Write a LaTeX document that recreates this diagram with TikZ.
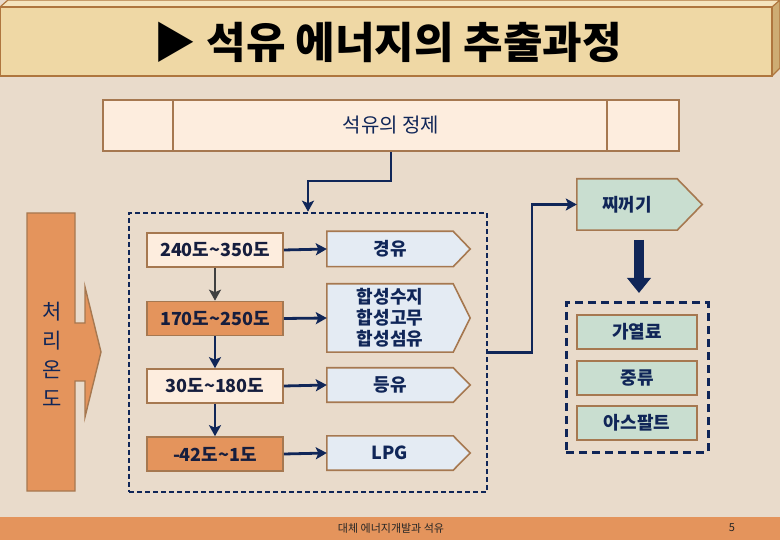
\documentclass[tikz,border=0pt]{standalone}
\usepackage{fontspec}
\setmainfont{Noto Sans CJK KR}
\newfontfamily\kr{Noto Sans CJK KR}
\usetikzlibrary{arrows.meta}
\pgfdeclarelayer{back}
\pgfdeclarelayer{mid}
\pgfsetlayers{back,mid,main}
\definecolor{bgc}{RGB}{233,219,203}
\definecolor{orng}{RGB}{228,148,92}
\definecolor{brn}{RGB}{166,120,80}
\definecolor{crm}{RGB}{253,237,222}
\definecolor{pblue}{RGB}{228,235,243}
\definecolor{pgreen}{RGB}{201,222,208}
\definecolor{navy}{RGB}{16,38,88}
\definecolor{txtc}{RGB}{22,30,62}
\definecolor{tfill}{RGB}{239,216,165}
\definecolor{ttop}{RGB}{245,228,190}
\definecolor{tside}{RGB}{205,172,115}
\definecolor{tbrd}{RGB}{175,118,62}
\definecolor{graya}{RGB}{64,64,64}
\newcommand\tl{{\char"7E}}
\tikzset{
  rowbox/.style={draw=brn, line width=1.6pt, minimum width=136pt, minimum height=34pt, inner sep=0pt, text=txtc, font=\kr\bfseries\fontsize{18}{20}\selectfont},
  crmbox/.style={rowbox, fill=crm},
  orbox/.style={rowbox, fill=orng},
  pent/.style={minimum width=126pt, minimum height=34pt, inner sep=0pt, text=navy, align=center, font=\kr\bfseries\fontsize{18}{21}\selectfont},
  pentline/.style={fill=pblue, draw=brn, line width=1.6pt},
  gbox/.style={draw=brn, line width=1.6pt, fill=pgreen, minimum width=120pt, minimum height=34pt, inner sep=0pt, text=navy, font=\kr\bfseries\fontsize{18}{20}\selectfont},
  conn/.style={draw=navy, line width=2.8pt, -{Stealth[length=11pt,width=12pt,inset=2.5pt]}},
  dashbox/.style={draw=navy, line width=2.6pt, dash pattern=on 5pt off 3pt},
}
\newcommand\pentout[3]{\begin{pgfonlayer}{mid}\filldraw[#3] (#1.north west) -- (#1.north east) -- ([xshift=#2]#1.east) -- (#1.south east) -- (#1.south west) -- cycle;\end{pgfonlayer}}
\begin{document}
\begin{tikzpicture}[x=1pt,y=-1pt]
\useasboundingbox (0,0) rectangle (780,540);
\begin{pgfonlayer}{back}
\fill[bgc] (0,0) rectangle (780,540);
% title bar
\fill[ttop] (0,7) -- (8,0) -- (780,0) -- (772,7) -- cycle;
\fill[tside] (772,7) -- (780,0) -- (780,68) -- (772,76) -- cycle;
\fill[tfill] (0,7) rectangle (772,76);
\draw[tbrd, line width=1.6pt] (0,7) rectangle (772,76);
\draw[tbrd, line width=1.2pt] (0,7) -- (8,0) -- (780,0) -- (780,68) -- (772,76) (772,7) -- (780,0);
% footer
\fill[orng] (0,517) rectangle (780,540);
% left block arrow
\filldraw[fill=orng, draw=brn, line width=1.4pt] (27,213) -- (75,213) -- (75,323) -- (85,323) -- (85,287) -- (101,352) -- (85,417) -- (85,381) -- (75,381) -- (75,491) -- (27,491) -- cycle;
\end{pgfonlayer}

\node[font=\kr\bfseries\fontsize{43}{46}\selectfont, text=black] (title) at (388,42) {▶ 석유 에너지의 추출과정};

% top box
\node[draw=brn, line width=1.8pt, fill=crm, minimum width=576pt, minimum height=51pt, inner sep=0pt, text=navy, font=\kr\fontsize{20}{22}\selectfont] (top) at (391,125.5) {석유의 정제};
\draw[brn, line width=1.8pt] (173,100) -- (173,151) (607,100) -- (607,151);

% dashed boxes
\node[dashbox, minimum width=358pt, minimum height=279pt, inner sep=0pt] (mainbox) at (308,352.5) {};
\node[dashbox, dash pattern=on 8pt off 5pt, line width=3pt, minimum width=142pt, minimum height=149pt, inner sep=0pt] (rbox) at (637,377.5) {};

% left rows
\node[crmbox] (r1) at (215,250) {240도\tl350도};
\node[orbox] (r2) at (215,318.5) {170도\tl250도};
\node[crmbox] (r3) at (215,386) {30도\tl180도};
\node[orbox] (r4) at (215,454) {-42도\tl1도};

% pentagons
\node[pent, minimum height=35pt] (p1) at (390,249) {경유};
\node[pent, minimum height=68pt] (p2) at (390,318) {합성수지\\합성고무\\합성섬유};
\node[pent] (p3) at (390,385) {등유};
\node[pent] (p4) at (390,453) {LPG};
\pentout{p1}{17pt}{pentline}
\pentout{p2}{17pt}{pentline}
\pentout{p3}{17pt}{pentline}
\pentout{p4}{17pt}{pentline}

% vertical label
\node[align=center, text=navy, font=\kr\fontsize{21}{29}\selectfont] (lbl) at (52,354) {처\\리\\온\\도};

% right side
\node[pent, minimum width=100pt, minimum height=51pt] (cz) at (627,204.5) {찌꺼기};
\pentout{cz}{25pt}{fill=pgreen, draw=brn, line width=1.6pt}
\node[gbox] (g1) at (637,332) {가열료};
\node[gbox] (g2) at (637,378) {중류};
\node[gbox] (g3) at (637,423) {아스팔트};

% connectors
\coordinate (c1) at (391,181);
\draw[conn] (top.south) -- (c1) -| (mainbox.north);
\coordinate (c2) at (532,352.5);
\draw[conn] (mainbox.east) -- (c2) |- (cz.west);
\draw[conn] (r1.east) -- (p1.west);
\draw[conn] (r2.east) -- (p2.west);
\draw[conn] (r3.east) -- (p3.west);
\draw[conn] (r4.east) -- (p4.west);
\draw[conn, draw=graya] (r1.south) -- (r2.north);
\draw[conn] (r2.south) -- (r3.north);
\draw[conn] (r3.south) -- (r4.north);
\coordinate (d1) at (639,240);
\coordinate (d2) at (639,293);
\draw[navy, line width=10pt, -{Triangle[length=15pt,width=23pt]}] (d1) -- (d2);

% footer text
\node[font=\kr\fontsize{11}{13}\selectfont, text=black!85] (foot) at (391,528) {대체 에너지개발과 석유};
\node[font=\kr\fontsize{11}{13}\selectfont, text=black!85] (pg) at (732,528) {5};
\end{tikzpicture}
\end{document}
